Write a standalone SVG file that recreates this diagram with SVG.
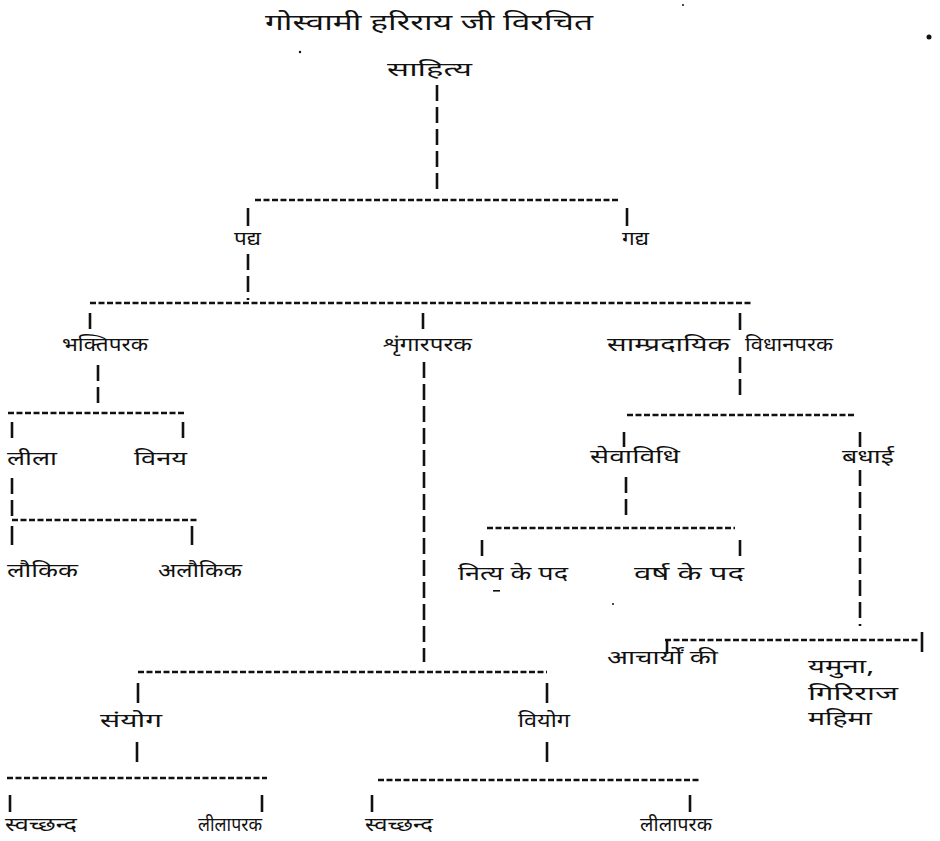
<svg xmlns="http://www.w3.org/2000/svg" width="940" height="841" viewBox="0 0 940 841">
<style>
text{font-family:"Noto Sans Devanagari","Noto Serif Devanagari","Lohit Devanagari","Noto Sans",sans-serif;font-size:19px;fill:#111}
.t{font-size:22px}
.h{stroke:#111;stroke-width:2.6;stroke-dasharray:6 2.5;fill:none}
.v{stroke:#111;stroke-width:2.6;stroke-dasharray:16 6;fill:none}
.k{stroke:#111;stroke-width:2.6;fill:none}
</style>
<rect width="940" height="841" fill="#fff"/>
<g id="title"><text class="t" x="265" y="30" textLength="328" lengthAdjust="spacingAndGlyphs">गोस्वामी हरिराय जी विरचित</text></g>
<g id="specks" fill="#111"><circle cx="929" cy="37" r="2.5"/><circle cx="300" cy="52" r="1.2"/><circle cx="683" cy="5" r="1"/><rect x="493" y="590" width="7" height="1.6"/><circle cx="613" cy="604" r="1"/></g>
<g id="connectors">
<line class="v" x1="437" y1="85" x2="437" y2="192"/>
<line class="h" x1="255" y1="200" x2="620" y2="200"/>
<line class="k" x1="248" y1="208" x2="248" y2="226"/>
<line class="k" x1="627" y1="208" x2="627" y2="226"/>
<line class="v" x1="248" y1="254" x2="248" y2="300"/>
<line class="h" x1="90" y1="303" x2="752" y2="303"/>
<line class="k" x1="90" y1="313" x2="90" y2="329"/>
<line class="k" x1="423" y1="313" x2="423" y2="329"/>
<line class="k" x1="740" y1="313" x2="740" y2="330"/>
<line class="v" x1="98" y1="365" x2="98" y2="405"/>
<line class="h" x1="8" y1="413" x2="185" y2="413"/>
<line class="k" x1="12" y1="422" x2="12" y2="438"/>
<line class="k" x1="183" y1="422" x2="183" y2="438"/>
<line class="v" x1="12" y1="478" x2="12" y2="520"/>
<line class="h" x1="12" y1="520" x2="198" y2="520"/>
<line class="k" x1="12" y1="526" x2="12" y2="545"/>
<line class="k" x1="192" y1="526" x2="192" y2="545"/>
<line class="v" x1="424" y1="362" x2="424" y2="662"/>
<line class="v" x1="740" y1="357" x2="740" y2="399"/>
<line class="h" x1="627" y1="415" x2="856" y2="415"/>
<line class="k" x1="624" y1="432" x2="624" y2="447"/>
<line class="k" x1="860" y1="432" x2="860" y2="447"/>
<line class="v" x1="626" y1="477" x2="626" y2="519"/>
<line class="h" x1="487" y1="528" x2="735" y2="528"/>
<line class="k" x1="482" y1="540" x2="482" y2="556"/>
<line class="k" x1="740" y1="540" x2="740" y2="556"/>
<line class="v" x1="860" y1="470" x2="860" y2="626"/>
<line class="h" x1="665" y1="640" x2="918" y2="640"/>
<line class="k" x1="667" y1="640" x2="667" y2="654"/>
<line class="k" x1="922" y1="632" x2="922" y2="652"/>
<line class="h" x1="138" y1="672" x2="547" y2="672"/>
<line class="k" x1="138" y1="683" x2="138" y2="703"/>
<line class="k" x1="547" y1="683" x2="547" y2="703"/>
<line class="k" x1="137" y1="742" x2="137" y2="762"/>
<line class="k" x1="547" y1="742" x2="547" y2="762"/>
<line class="h" x1="7" y1="778" x2="267" y2="778"/>
<line class="k" x1="10" y1="795" x2="10" y2="812"/>
<line class="k" x1="262" y1="795" x2="262" y2="812"/>
<line class="h" x1="378" y1="780" x2="700" y2="780"/>
<line class="k" x1="372" y1="795" x2="372" y2="812"/>
<line class="k" x1="690" y1="795" x2="690" y2="812"/>
</g>
<g id="n-sahitya"><text x="387" y="76" font-size="20" textLength="85" lengthAdjust="spacingAndGlyphs">साहित्य</text></g>
<g id="n-padya"><text x="234" y="245" font-size="17" textLength="27" lengthAdjust="spacingAndGlyphs">पद्य</text></g>
<g id="n-gadya"><text x="622" y="245" font-size="17" textLength="27" lengthAdjust="spacingAndGlyphs">गद्य</text></g>
<g id="n-bhakti"><text x="62" y="351" textLength="86" lengthAdjust="spacingAndGlyphs">भक्तिपरक</text></g>
<g id="n-shringar"><text x="383" y="351" textLength="89" lengthAdjust="spacingAndGlyphs">शृंगारपरक</text></g>
<g id="n-sampraday"><text x="607" y="351" textLength="123" lengthAdjust="spacingAndGlyphs">साम्प्रदायिक</text><text x="745" y="351" textLength="88" lengthAdjust="spacingAndGlyphs">विधानपरक</text></g>
<g id="n-leela"><text x="7" y="465" textLength="50" lengthAdjust="spacingAndGlyphs">लीला</text></g>
<g id="n-vinay"><text x="134" y="465" textLength="53" lengthAdjust="spacingAndGlyphs">विनय</text></g>
<g id="n-laukik"><text x="7" y="577" textLength="71" lengthAdjust="spacingAndGlyphs">लौकिक</text></g>
<g id="n-alaukik"><text x="158" y="577" textLength="84" lengthAdjust="spacingAndGlyphs">अलौकिक</text></g>
<g id="n-sevavidhi"><text x="590" y="463" textLength="90" lengthAdjust="spacingAndGlyphs">सेवाविधि</text></g>
<g id="n-badhai"><text x="842" y="463" textLength="52" lengthAdjust="spacingAndGlyphs">बधाई</text></g>
<g id="n-nitya"><text x="458" y="580" textLength="110" lengthAdjust="spacingAndGlyphs">नित्य के पद</text></g>
<g id="n-varsh"><text x="634" y="580" textLength="110" lengthAdjust="spacingAndGlyphs">वर्ष के पद</text></g>
<g id="n-acharya"><text x="607" y="664" textLength="111" lengthAdjust="spacingAndGlyphs">आचार्यों की</text></g>
<g id="n-yamuna"><text x="808" y="673" textLength="66" lengthAdjust="spacingAndGlyphs">यमुना,</text><text x="808" y="700" textLength="90" lengthAdjust="spacingAndGlyphs">गिरिराज</text><text x="808" y="725" textLength="64" lengthAdjust="spacingAndGlyphs">महिमा</text></g>
<g id="n-sanyog"><text x="100" y="727" textLength="62" lengthAdjust="spacingAndGlyphs">संयोग</text></g>
<g id="n-viyog"><text x="518" y="727" textLength="52" lengthAdjust="spacingAndGlyphs">वियोग</text></g>
<g id="n-swach1"><text x="5" y="831" textLength="72" lengthAdjust="spacingAndGlyphs">स्वच्छन्द</text></g>
<g id="n-leelapar1"><text x="198" y="831" textLength="64" lengthAdjust="spacingAndGlyphs">लीलापरक</text></g>
<g id="n-swach2"><text x="365" y="831" textLength="68" lengthAdjust="spacingAndGlyphs">स्वच्छन्द</text></g>
<g id="n-leelapar2"><text x="640" y="831" textLength="72" lengthAdjust="spacingAndGlyphs">लीलापरक</text></g>
</svg>
